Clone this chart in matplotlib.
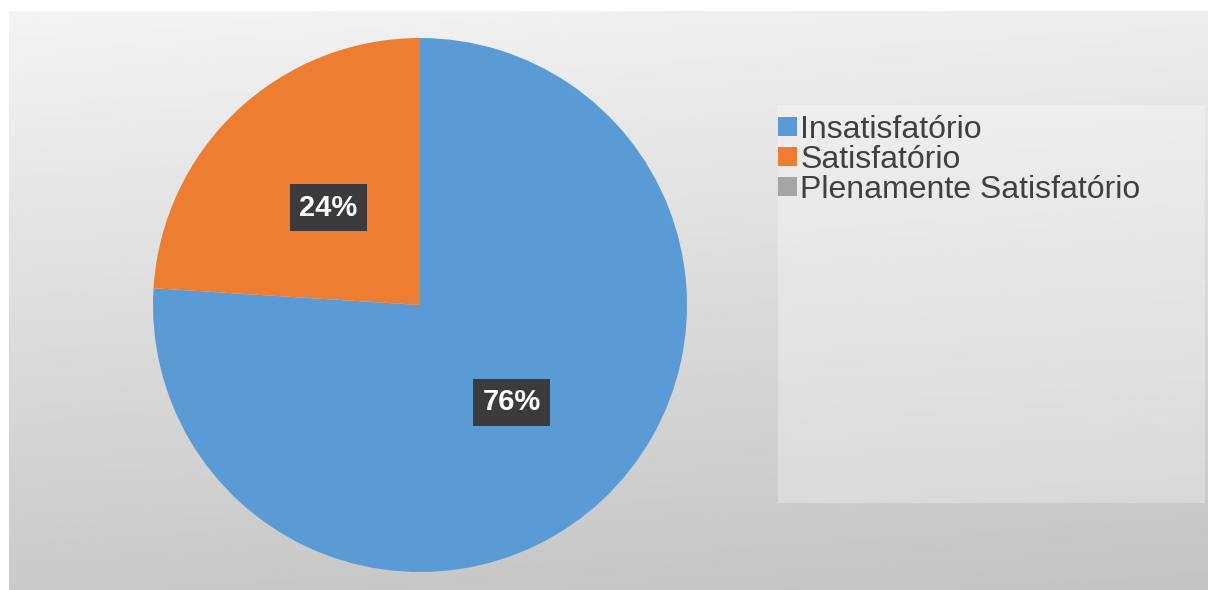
import numpy as np
import matplotlib
matplotlib.use("Agg")
import matplotlib.pyplot as plt
from matplotlib.patches import Rectangle

plt.rcParams['font.family'] = ['Liberation Sans', 'DejaVu Sans']

# data
categories = ['Insatisfatório', 'Satisfatório', 'Plenamente Satisfatório']
shares = [76, 24, 0]
colors = ['#5b9bd5', '#ed7d31', '#a5a5a5']

W, H = 1208, 590
fig = plt.figure(figsize=(W / 100, H / 100), dpi=100)
fig.patch.set_facecolor('white')

# background panel with a soft grey gradient
bg = fig.add_axes([0, 0, 1, 1])
bg.set_xlim(0, W)
bg.set_ylim(H, 0)
bg.axis('off')
yy, xx = np.mgrid[0:1:200j, 0:1:200j]
shade = 243 - 42 * yy - 6 * xx
bg.imshow(shade, cmap='gray', vmin=0, vmax=255, extent=[9, W, H, 11],
          aspect='auto', interpolation='bilinear', zorder=0)
# lighter plate behind the legend
bg.add_patch(Rectangle((778, 105), 427, 398, facecolor='white', alpha=0.3,
                       edgecolor='none', zorder=1))

# pie: center (420, 305) px, radius 267 px
cx, cy, r = 420, 305, 267
ax = fig.add_axes([(cx - r) / W, (H - cy - r) / H, 2 * r / W, 2 * r / H])
ax.set_facecolor('none')


def fmt(p):
    return f'{p:.0f}%' if p > 0.5 else ''


wedges, texts, autotexts = ax.pie(
    shares, colors=colors, startangle=90, counterclock=False,
    autopct=fmt, pctdistance=0.5, radius=1,
    wedgeprops=dict(linewidth=0),
    textprops=dict(color='white', fontsize=21, fontweight='bold'))
for t in autotexts:
    t.set_bbox(dict(boxstyle='square,pad=0.32', facecolor='#3b3b3b',
                    edgecolor='none'))
ax.set_xlim(-1, 1)
ax.set_ylim(-1, 1)
ax.set_aspect('auto')

leg = fig.legend(wedges, categories, loc='upper left',
                 bbox_to_anchor=(778 / W, 1 - 115 / H), frameon=False,
                 fontsize=23, borderpad=0, borderaxespad=0,
                 handlelength=0.58, handleheight=0.55, handletextpad=0.12,
                 labelspacing=0.0)
for t in leg.get_texts():
    t.set_color('#404040')

fig.savefig('out.png', dpi=100)
